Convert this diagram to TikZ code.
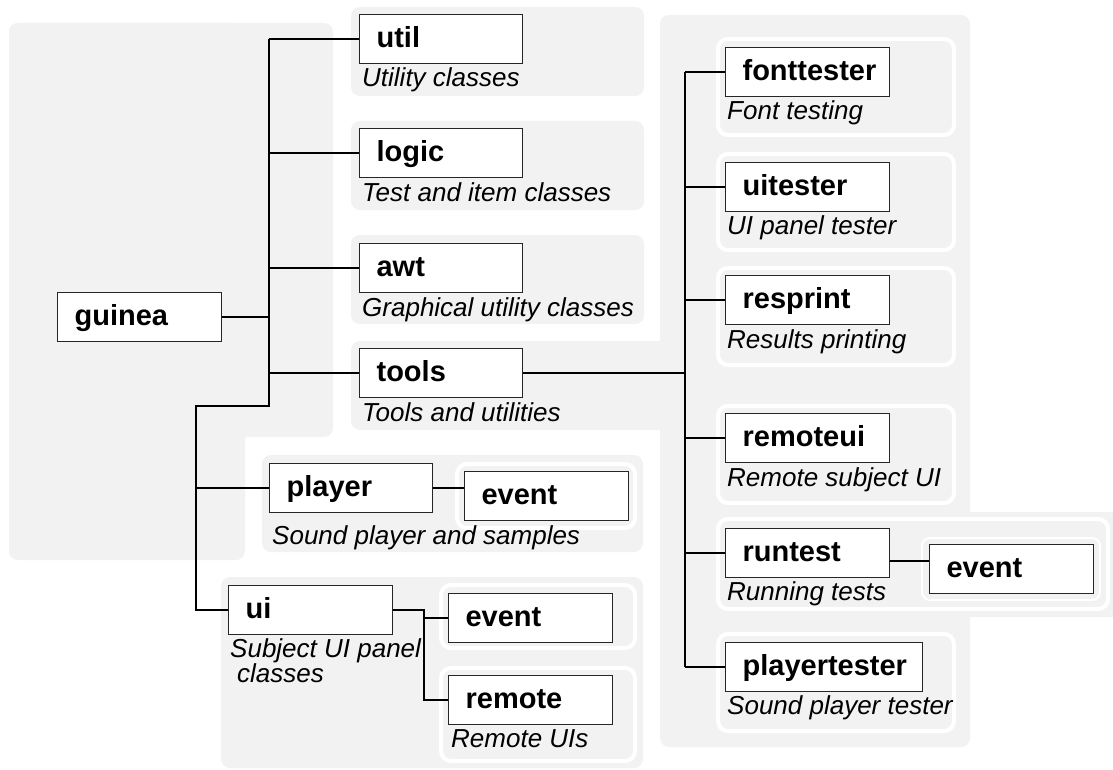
\documentclass[tikz,border=0pt]{standalone}
\usepackage{fontspec}
\setmainfont{Liberation Sans}
\definecolor{panel}{RGB}{242,242,242}
\begin{document}
\begin{tikzpicture}[x=1pt,y=-1pt,
  pnl/.style={fill=panel, rounded corners=9pt},
  sub/.style={fill=panel, draw=white, line width=4pt, rounded corners=10pt},
  pkg/.style={draw=black!85, fill=white, line width=1.2pt, inner sep=0pt,
    anchor=north west, text width=#1, align=left, text height=33pt, text depth=16pt,
    font=\fontsize{29}{33}\selectfont\bfseries, execute at begin node=\hspace*{17pt}},
  pkg/.default=163pt,
  desc/.style={anchor=base west, inner sep=0pt, align=left,
    font=\fontsize{26}{25}\selectfont\itshape},
  link/.style={line width=1.3pt, draw=black}]

\fill[white] (0,0) rectangle (1113,770);
\useasboundingbox (0,0) rectangle (1113,770);

% package panels
\fill[pnl] (9,23) rectangle (333,437);
\fill[pnl] (9,23) rectangle (245,560);
\fill[pnl] (351,7) rectangle (644,96);
\fill[pnl] (351,121) rectangle (644,210);
\fill[pnl] (351,235) rectangle (644,324);
\fill[pnl] (351,341) rectangle (680,430);
\fill[pnl] (660,15) rectangle (970,747);
\fill[panel] (950,512) rectangle (1125,617);
\fill[pnl] (262,455) rectangle (643,552);
\fill[pnl] (221,577) rectangle (643,768);

% sub-package panels
\draw[sub] (718,39) rectangle (954,135);
\draw[sub] (718,154) rectangle (954,250);
\draw[sub] (718,268) rectangle (954,365);
\draw[sub] (718,406) rectangle (954,503);
\draw[sub] (718,519) rectangle (1108,609);
\draw[sub] (718,634) rectangle (954,731);
\draw[sub] (457,464) rectangle (635,528);
\draw[sub] (441,585) rectangle (635,648);
\draw[sub] (441,668) rectangle (635,761);
\draw[sub, line width=2pt, rounded corners=8pt] (922,538) rectangle (1100,600);

% package boxes
\node[pkg=164pt] (guinea) at (57,292) {guinea};
\node[pkg] (util) at (359,14) {util};
\node[pkg] (logic) at (359,128) {logic};
\node[pkg] (awt) at (359,243) {awt};
\node[pkg] (tools) at (359,348) {tools};
\node[pkg] (player) at (269,463) {player};
\node[pkg=164pt] (pev) at (464,471) {event};
\node[pkg=164pt] (ui) at (228,585) {ui};
\node[pkg=164pt] (uev) at (448,593) {event};
\node[pkg=164pt] (remote) at (448,675) {remote};
\node[pkg=164pt] (fonttester) at (725,47) {fonttester};
\node[pkg=164pt] (uitester) at (725,162) {uitester};
\node[pkg=164pt] (resprint) at (725,275) {resprint};
\node[pkg=164pt] (remoteui) at (725,413) {remoteui};
\node[pkg=164pt] (runtest) at (725,528) {runtest};
\node[pkg=164pt] (rtev) at (929,544) {event};
\node[pkg=197pt] (playertester) at (725,642) {playertester};

% descriptions
\node[desc] (utild) at (362,87) {Utility classes};
\node[desc] (logicd) at (362,201) {Test and item classes};
\node[desc] (awtd) at (362,316) {Graphical utility classes};
\node[desc] (toolsd) at (362,421) {Tools and utilities};
\node[desc] (playerd) at (272,544) {Sound player and samples};
\node[desc] (uid) at (230,682) {Subject UI panel\\\hspace*{7pt}classes};
\node[desc] (remoted) at (451,747) {Remote UIs};
\node[desc] (fontd) at (727,120) {Font testing};
\node[desc] (uitd) at (727,234) {UI panel tester};
\node[desc] (respd) at (727,348) {Results printing};
\node[desc] (remuid) at (727,486) {Remote subject UI};
\node[desc] (runtd) at (727,600) {Running tests};
\node[desc] (pltd) at (727,714) {Sound player tester};

% connectors
\coordinate (j1) at (269,39);
\coordinate (j2) at (269,406);
\coordinate (j3) at (196,406);
\coordinate (k) at (685,0);
\coordinate (m) at (424,0);
\coordinate (ply) at (0,488);
\coordinate (rty) at (0,561);

\draw[link] (guinea.east) -- (guinea.east -| j1);
\draw[link] (j1) -- (j2) -- (j3) -- (j3 |- ui.west) -- (ui.west);
\draw[link] (util.west -| j1) -- (util.west);
\draw[link] (logic.west -| j1) -- (logic.west);
\draw[link] (awt.west -| j1) -- (awt.west);
\draw[link] (tools.west -| j1) -- (tools.west);
\draw[link] (player.west -| j3) -- (player.west);
\draw[link] (player.east |- ply) -- (pev.west |- ply);

\draw[link] (ui.east) -- (ui.east -| m) -- (remote.west -| m) -- (remote.west);
\draw[link] (uev.west -| m) -- (uev.west);

\draw[link] (tools.east) -- (tools.east -| k);
\draw[link] (fonttester.west -| k) -- (playertester.west -| k);
\draw[link] (fonttester.west -| k) -- (fonttester.west);
\draw[link] (uitester.west -| k) -- (uitester.west);
\draw[link] (resprint.west -| k) -- (resprint.west);
\draw[link] (remoteui.west -| k) -- (remoteui.west);
\draw[link] (runtest.west -| k) -- (runtest.west);
\draw[link] (playertester.west -| k) -- (playertester.west);
\draw[link] (runtest.east |- rty) -- (rtev.west |- rty);
\end{tikzpicture}
\end{document}
